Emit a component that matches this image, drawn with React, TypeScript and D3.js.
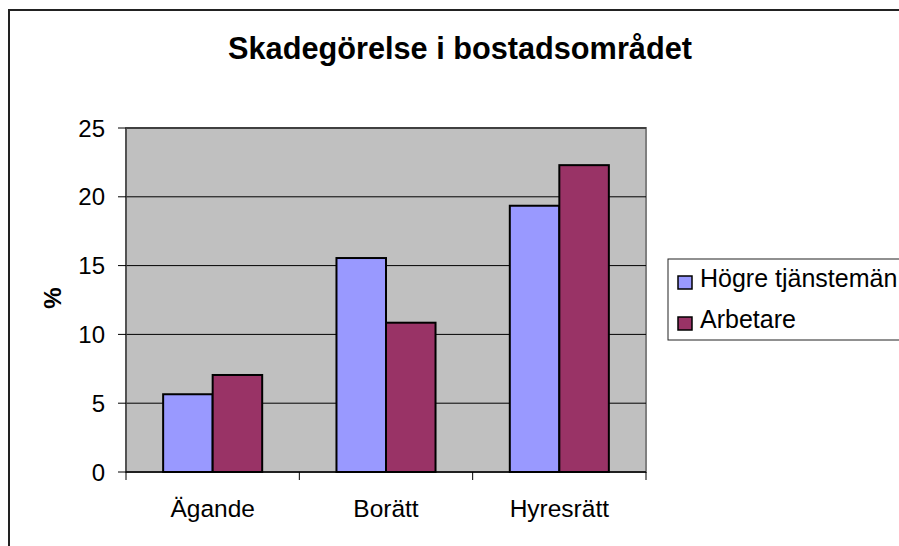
import React from 'react';
import { scaleBand, scaleLinear } from 'd3';

const categories = ['Ägande', 'Borätt', 'Hyresrätt'];
const seriesNames = ['Högre tjänstemän', 'Arbetare'];
const hogre = [5.65, 15.55, 19.35];
const arbetare = [7.05, 10.85, 22.3];
const yTicks = [0, 5, 10, 15, 20, 25];
const colors = ['#9999FF', '#993366'];

const W = 899;
const H = 546;
const plot = { left: 126, right: 646, top: 128, bottom: 472 };
const font = 'Arial, "Liberation Sans", sans-serif';

const App: React.FC = () => {
  const x = scaleBand<string>()
    .domain(categories)
    .range([plot.left, plot.right])
    .padding(0);

  const inner = scaleBand<string>()
    .domain(seriesNames)
    .range([0, x.bandwidth()])
    .paddingInner(0)
    .paddingOuter(0.75);

  const y = scaleLinear().domain([0, 25]).range([plot.bottom, plot.top]);

  const values = [hogre, arbetare];
  const catTicks = [...categories.map(c => x(c)!), plot.right];

  return (
    <svg width={W} height={H} style={{ position: 'absolute', left: 0, top: 0, background: '#fff' }}>
      {/* chart area border (right and bottom are cut off) */}
      <path d={`M9,${H} L9,10 L${W},10`} fill="none" stroke="#222" strokeWidth={2} />

      <text x={460} y={59} textAnchor="middle" fontFamily={font} fontWeight="bold" fontSize={30.7}>
        Skadegörelse i bostadsområdet
      </text>

      {/* plot background */}
      <rect x={plot.left} y={plot.top} width={plot.right - plot.left} height={plot.bottom - plot.top}
        fill="#C0C0C0" stroke="#808080" strokeWidth={2} />

      {yTicks.filter(t => t > 0).map(t => (
        <line key={t} x1={plot.left} x2={plot.right} y1={y(t)} y2={y(t)} stroke="#000" strokeWidth={1} />
      ))}

      {categories.map((c, i) =>
        values.map((vals, s) => (
          <rect key={c + s}
            x={x(c)! + inner(seriesNames[s])!}
            y={y(vals[i])}
            width={inner.bandwidth()}
            height={y(0) - y(vals[i])}
            fill={colors[s]} stroke="#000" strokeWidth={2} />
        ))
      )}

      {/* y axis */}
      <line x1={plot.left} x2={plot.left} y1={plot.top} y2={plot.bottom} stroke="#444" strokeWidth={1.5} />
      {yTicks.map(t => (
        <g key={t}>
          <line x1={plot.left - 8} x2={plot.left} y1={y(t)} y2={y(t)} stroke="#000" />
          <text x={105} y={y(t)} dy="0.36em" textAnchor="end" fontFamily={font} fontSize={24}>{t}</text>
        </g>
      ))}
      <text transform="translate(61,298) rotate(-90)" textAnchor="middle" fontFamily={font} fontWeight="bold" fontSize={24}>%</text>

      {/* x axis */}
      <line x1={plot.left} x2={plot.right} y1={plot.bottom} y2={plot.bottom} stroke="#000" strokeWidth={1.5} />
      {catTicks.map((t, i) => (
        <line key={i} x1={t} x2={t} y1={plot.bottom} y2={plot.bottom + 8} stroke="#000" />
      ))}
      {categories.map(c => (
        <text key={c} x={x(c)! + x.bandwidth() / 2} y={517} textAnchor="middle" fontFamily={font} fontSize={24.5}>{c}</text>
      ))}

      {/* legend */}
      <rect x={668} y={259} width={260} height={81} fill="#fff" stroke="#222" strokeWidth={1} />
      {seriesNames.map((n, i) => (
        <g key={n}>
          <rect x={678} y={276 + i * 41} width={14} height={13} fill={colors[i]} stroke="#000" strokeWidth={1.5} />
          <text x={700} y={287 + i * 41} fontFamily={font} fontSize={25}>{n}</text>
        </g>
      ))}
    </svg>
  );
};

export default App;
